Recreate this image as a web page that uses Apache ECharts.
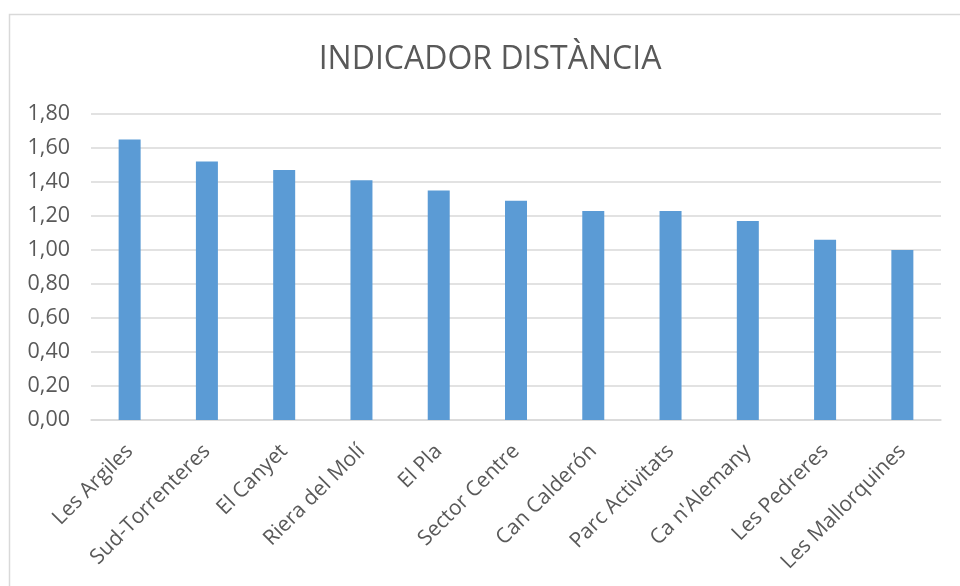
<!DOCTYPE html>
<html>
<head>
<meta charset="utf-8">
<script src="https://cdn.jsdelivr.net/npm/echarts@6/dist/echarts.min.js"></script>
<style>
  html, body { margin: 0; padding: 0; background: #ffffff; }
  #chart { width: 960px; height: 586px; }
</style>
</head>
<body>
<div id="chart"></div>
<script>
// Neighbourhoods and their distance indicator
const categories = [
  'Les Argiles', 'Sud-Torrenteres', 'El Canyet', 'Riera del Molí', 'El Pla',
  'Sector Centre', 'Can Calderón', 'Parc Activitats', "Ca n'Alemany",
  'Les Pedreres', 'Les Mallorquines'
];
const distanceValues = [1.65, 1.52, 1.47, 1.41, 1.35, 1.29, 1.23, 1.23, 1.17, 1.06, 1.00];
const yTicks = { min: 0, max: 1.8, interval: 0.2 };
const chartTitle = 'INDICADOR DISTÀNCIA';

const textColor = '#595959';
const gridColor = '#D9D9D9';
const fontFamily = '"Open Sans", "Noto Sans", sans-serif';

const chart = echarts.init(document.getElementById('chart'), null, { renderer: 'canvas' });

chart.setOption({
  animation: false,
  backgroundColor: '#ffffff',
  title: {
    text: chartTitle,
    left: 485,
    textAlign: 'center',
    top: 39,
    textStyle: { color: textColor, fontFamily: fontFamily, fontSize: 32, fontWeight: 'normal' }
  },
  graphic: [{
    type: 'rect',
    shape: { x: 9.5, y: 14.5, width: 980, height: 600 },
    style: { fill: 'none', stroke: gridColor, lineWidth: 1.5 },
    silent: true
  }],
  grid: { left: 91, right: 19, top: 114, bottom: 166, containLabel: false },
  xAxis: {
    type: 'category',
    data: categories,
    axisLine: { show: true, lineStyle: { color: gridColor, width: 1.5 } },
    axisTick: { show: false },
    axisLabel: {
      rotate: 45,
      interval: 0,
      margin: 28,
      color: textColor,
      fontFamily: fontFamily,
      fontSize: 21
    }
  },
  yAxis: {
    type: 'value',
    min: yTicks.min,
    max: yTicks.max,
    interval: yTicks.interval,
    axisLine: { show: false },
    axisTick: { show: false },
    splitLine: { lineStyle: { color: gridColor, width: 1.5 } },
    axisLabel: {
      margin: 21,
      color: textColor,
      fontFamily: fontFamily,
      fontSize: 21.5,
      formatter: v => v.toFixed(2).replace('.', ',')
    }
  },
  series: [{
    type: 'bar',
    data: distanceValues,
    barWidth: 22,
    itemStyle: { color: '#5B9BD5' }
  }]
});
</script>
</body>
</html>
